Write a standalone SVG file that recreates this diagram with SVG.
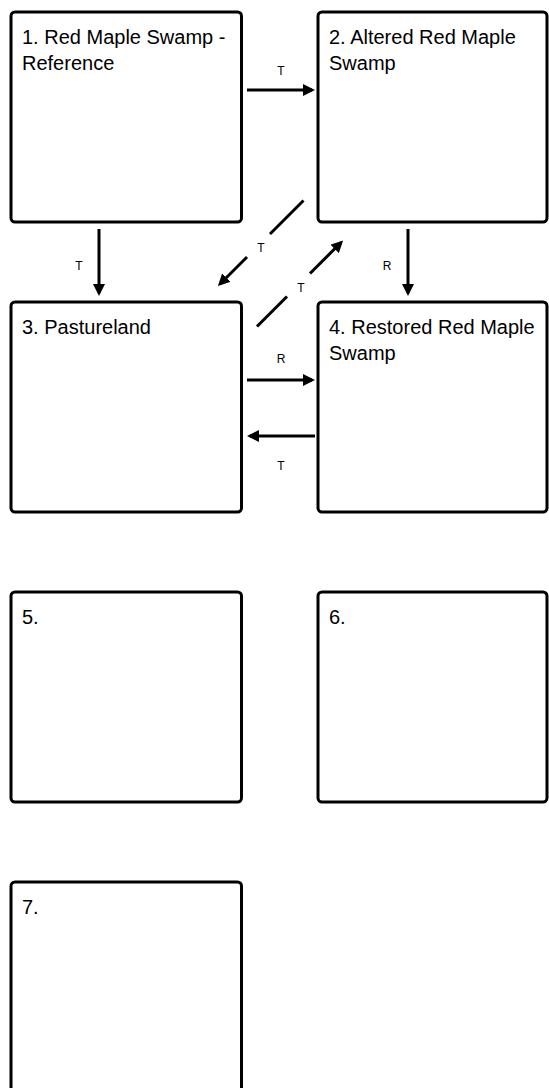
<svg xmlns="http://www.w3.org/2000/svg" width="549" height="1088" viewBox="0 0 549 1088">
<style>
.box{fill:#fff;stroke:#000;stroke-width:3}
.t{font-family:"Liberation Sans",Arial,sans-serif;font-size:20px;fill:#000}
.lbl{font-family:"Liberation Sans",Arial,sans-serif;font-size:12px;fill:#000;text-anchor:middle}
.c{fill:none;stroke:#000;stroke-width:3;marker-end:url(#ah)}
</style>
<defs>
<marker id="ah" markerUnits="userSpaceOnUse" markerWidth="13" markerHeight="12" refX="9" refY="6" orient="auto">
<path d="M0,0 L12,6 L0,12 z" fill="#000"/>
</marker>
</defs>
<rect width="549" height="1088" fill="#fff"/>
<g id="n1"><rect class="box" x="11" y="12" width="230.5" height="210" rx="4"/><text class="t" x="22" y="44">1. Red Maple Swamp -</text><text class="t" x="22" y="70">Reference</text></g>
<g id="n2"><rect class="box" x="318" y="12" width="229" height="210" rx="4"/><text class="t" x="329" y="44">2. Altered Red Maple</text><text class="t" x="329" y="70">Swamp</text></g>
<g id="n3"><rect class="box" x="11" y="302" width="230.5" height="210" rx="4"/><text class="t" x="22" y="334">3. Pastureland</text></g>
<g id="n4"><rect class="box" x="318" y="302" width="229" height="210" rx="4"/><text class="t" x="329" y="334">4. Restored Red Maple</text><text class="t" x="329" y="360">Swamp</text></g>
<g id="n5"><rect class="box" x="11" y="592" width="230.5" height="210" rx="4"/><text class="t" x="22" y="624">5.</text></g>
<g id="n6"><rect class="box" x="318" y="592" width="229" height="210" rx="4"/><text class="t" x="329" y="624">6.</text></g>
<g id="n7"><rect class="box" x="11" y="882" width="230.5" height="210" rx="4"/><text class="t" x="22" y="914">7.</text></g>
<g id="connectors">
<path class="c" d="M247,90 H312"/>
<text class="lbl" x="281" y="75">T</text>
<path class="c" d="M99,229 V293"/>
<text class="lbl" x="79" y="270">T</text>
<path class="c" d="M408,229 V293"/>
<text class="lbl" x="387" y="270">R</text>
<path class="c" d="M303.5,200.5 L270,234 M247,257 L220,284"/>
<text class="lbl" x="261" y="252">T</text>
<path class="c" d="M257,326.5 L287,296.5 M310,273.5 L341,242.5"/>
<text class="lbl" x="301" y="292">T</text>
<path class="c" d="M247,380 H312"/>
<text class="lbl" x="281" y="363">R</text>
<path class="c" d="M315,436 H250"/>
<text class="lbl" x="281" y="470">T</text>
</g>
</svg>
